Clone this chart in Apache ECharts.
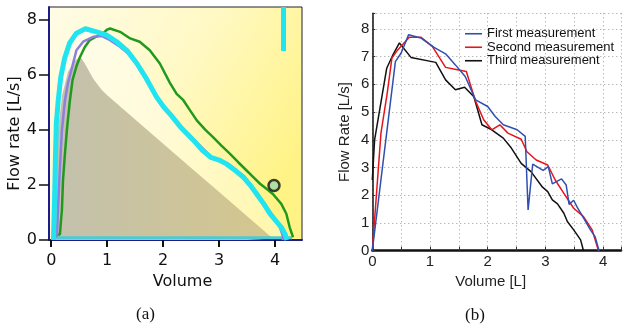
<!DOCTYPE html>
<html>
<head>
<meta charset="utf-8">
<script src="https://cdn.jsdelivr.net/npm/echarts@6.0.0/dist/echarts.min.js"></script>
<style>
  html, body { margin: 0; padding: 0; background: #fff; }
  #chart { width: 624px; height: 331px; }
</style>
</head>
<body>
<div id="chart"></div>
<script>
// ---------- Panel (a) ----------
const aVolumeTicks = [0, 1, 2, 3, 4];
const aFlowTicks = [0, 2, 4, 6, 8];
const aPredicted = [[0.05,0],[0.07,2],[0.12,4.0],[0.2,5.3],[0.3,6.1],[0.42,6.5],[0.52,6.65],[0.6,6.4],[0.75,5.85],[0.9,5.45],[1.0,5.25],[1.5,4.37],[2.0,3.49],[2.5,2.61],[3.0,1.74],[3.5,0.86],[3.96,0.05],[3.97,0]];
const aCyan = [[0.04,0],[0.06,1.5],[0.075,3.0],[0.09,4.2],[0.125,5.07],[0.17,5.9],[0.24,6.6],[0.33,7.15],[0.45,7.5],[0.61,7.66],[0.81,7.55],[0.99,7.43],[1.17,7.19],[1.35,6.88],[1.53,6.40],[1.70,5.85],[1.88,5.19],[2.0,4.85],[2.15,4.5],[2.30,4.12],[2.54,3.62],[2.70,3.25],[2.85,3.0],[3.0,2.9],[3.13,2.76],[3.30,2.5],[3.43,2.28],[3.55,2.0],[3.67,1.67],[3.80,1.3],[3.91,0.95],[4.02,0.68],[4.11,0.46],[4.18,0.2],[4.21,0]];
const aPurple = [[0.10,0.1],[0.14,2.0],[0.19,3.97],[0.245,5.07],[0.30,5.7],[0.36,6.16],[0.45,6.88],[0.57,7.19],[0.75,7.37],[0.90,7.40],[1.05,7.25],[1.20,7.05],[1.38,6.75],[1.55,6.32],[1.72,5.80],[1.90,5.15],[2.05,4.75],[2.20,4.40],[2.35,4.05],[2.58,3.58],[2.87,3.0],[3.15,2.78],[3.45,2.30],[3.68,1.70],[3.90,1.05],[4.06,0.6],[4.13,0.2],[4.14,0]];
const aGreen = [[0.07,0.2],[0.155,0.2],[0.17,0.6],[0.19,1.07],[0.21,2.16],[0.245,3.13],[0.28,4.0],[0.33,5.0],[0.38,5.8],[0.45,6.3],[0.51,6.62],[0.60,7.0],[0.69,7.25],[0.81,7.38],[0.93,7.49],[0.99,7.62],[1.05,7.67],[1.23,7.55],[1.41,7.31],[1.58,7.19],[1.76,6.88],[1.94,6.40],[2.12,5.70],[2.24,5.30],[2.36,5.07],[2.48,4.7],[2.60,4.34],[2.75,4.0],[2.89,3.73],[3.04,3.42],[3.19,3.13],[3.34,2.82],[3.49,2.52],[3.61,2.28],[3.73,2.04],[3.85,1.85],[3.96,1.67],[4.11,1.31],[4.20,0.95],[4.26,0.46],[4.32,0.1]];
const aBaseline = [[0.0,0.08],[4.3,0.08]];
const aTopBar = [[4.15,8.45],[4.15,6.85]];
const aMarker = [[3.98,1.98]];

// ---------- Panel (b) ----------
const bVolumeLabels = [0, 1, 2, 3, 4];
const bFirst = [[0,0],[0.40,6.82],[0.50,7.13],[0.63,7.79],[0.84,7.67],[1.07,7.33],[1.27,7.10],[1.44,6.70],[1.61,6.28],[1.79,5.44],[2.0,5.2],[2.13,4.84],[2.27,4.54],[2.51,4.36],[2.65,4.12],[2.70,1.47],[2.78,3.12],[2.96,2.90],[3.05,3.03],[3.12,2.41],[3.28,2.59],[3.36,2.37],[3.41,1.67],[3.49,1.82],[3.55,1.57],[3.67,1.15],[3.78,0.75],[3.86,0.51],[3.93,0]];
const bSecond = [[0,0],[0.15,4.24],[0.26,5.7],[0.34,6.95],[0.44,7.24],[0.64,7.70],[0.84,7.70],[1.04,7.37],[1.27,6.61],[1.41,6.55],[1.63,6.46],[1.78,5.44],[1.93,4.72],[2.07,4.36],[2.21,4.54],[2.35,4.24],[2.58,4.02],[2.68,3.57],[2.84,3.27],[3.04,3.09],[3.17,2.55],[3.32,2.07],[3.49,1.53],[3.66,1.23],[3.81,0.75],[3.92,0]];
const bThird = [[0,2.55],[0.04,4.0],[0.25,6.58],[0.35,7.03],[0.47,7.49],[0.67,6.97],[1.10,6.79],[1.27,6.16],[1.44,5.80],[1.60,5.89],[1.76,5.55],[1.90,4.54],[2.07,4.36],[2.27,4.06],[2.41,3.70],[2.58,3.15],[2.75,2.85],[2.95,2.29],[3.04,2.13],[3.12,1.83],[3.21,1.69],[3.32,1.35],[3.38,1.05],[3.49,0.75],[3.61,0.39],[3.66,0]];
const bNames = ['First measurement', 'Second measurement', 'Third measurement'];

const chart = echarts.init(document.getElementById('chart'), null, { renderer: 'canvas' });
const G = echarts.graphic;
const fontA = 'DejaVu Sans';
const fontB = 'Liberation Sans';

const option = {
  animation: false,
  backgroundColor: '#ffffff',
  grid: [
    { left: 49, top: 7, width: 253, height: 233, show: true, borderColor: '#222', borderWidth: 1,
      backgroundColor: new G.LinearGradient(0, 0, 1, 0.6, [
        { offset: 0, color: '#FFFCE6' },
        { offset: 0.5, color: '#FFF9C6' },
        { offset: 1, color: '#FFF386' }
      ]) },
    { left: 372.3, top: 13.3, right: 0, height: 237.4 }
  ],
  xAxis: [
    { gridIndex: 0, type: 'value', min: -0.04, max: 4.48,
      axisLine: { show: true, onZero: false, lineStyle: { color: '#1c1c8a', width: 2 } },
      axisTick: { show: true, customValues: aVolumeTicks, length: 7, lineStyle: { color: '#111', width: 2 } },
      axisLabel: { customValues: aVolumeTicks, margin: 13, fontFamily: fontA, fontSize: 16, color: '#111' },
      splitLine: { show: false },
      name: 'Volume', nameLocation: 'middle', nameGap: 26,
      nameTextStyle: { fontFamily: fontA, fontSize: 16, color: '#111', padding: [0, 0, 0, 14] } },
    { gridIndex: 1, type: 'value', min: 0, max: 4.31, interval: 0.5,
      axisLine: { show: true, onZero: false, lineStyle: { color: '#111', width: 2.5 } },
      axisTick: { show: true, inside: true, length: 4, lineStyle: { color: '#333', width: 1 } },
      axisLabel: { margin: 4, fontFamily: fontB, fontSize: 15, color: '#222',
        formatter: v => (bVolumeLabels.indexOf(v) >= 0 ? String(v) : '') },
      splitLine: { show: true, lineStyle: { color: '#9a9a9a', type: [1, 3], width: 1 } },
      name: 'Volume [L]', nameLocation: 'middle', nameGap: 20,
      nameTextStyle: { fontFamily: fontB, fontSize: 15, color: '#222', padding: [0, 12, 0, 0] } }
  ],
  yAxis: [
    { gridIndex: 0, type: 'value', min: 0, max: 8.45,
      axisLine: { show: true, onZero: false, lineStyle: { color: '#1c1c8a', width: 2 } },
      axisTick: { show: true, customValues: aFlowTicks, length: 10, lineStyle: { color: '#111', width: 1.5 } },
      axisLabel: { customValues: aFlowTicks, margin: 12, fontFamily: fontA, fontSize: 16, color: '#111' },
      splitLine: { show: false },
      name: 'Flow rate [L/s]', nameLocation: 'middle', nameGap: 24, nameRotate: 90,
      nameTextStyle: { fontFamily: fontA, fontSize: 16, color: '#111', padding: [0, 20, 0, 0] } },
    { gridIndex: 1, type: 'value', min: 0, max: 8.56, interval: 1,
      axisLine: { show: true, onZero: false, lineStyle: { color: '#111', width: 1.5 } },
      axisTick: { show: true, inside: true, length: 3, lineStyle: { color: '#333', width: 1 } },
      axisLabel: { margin: 3, fontFamily: fontB, fontSize: 15, color: '#222',
        formatter: v => (Number.isInteger(v) ? String(v) : '') },
      splitLine: { show: true, lineStyle: { color: '#9a9a9a', type: [1, 3], width: 1 } },
      name: 'Flow Rate [L/s]', nameLocation: 'middle', nameGap: 20, nameRotate: 90,
      nameTextStyle: { fontFamily: fontB, fontSize: 15, color: '#222' } }
  ],
  legend: {
    data: bNames, left: 460, top: 22, orient: 'vertical',
    icon: 'rect', itemWidth: 17, itemHeight: 1.6, itemGap: 0,
    textStyle: { fontFamily: fontB, fontSize: 13, color: '#111', lineHeight: 13.5 },
    selectedMode: false
  },
  series: [
    { name: 'predicted', type: 'line', xAxisIndex: 0, yAxisIndex: 0, data: aPredicted,
      showSymbol: false, lineStyle: { width: 0, opacity: 0 }, z: 1,
      areaStyle: { opacity: 1, color: new G.LinearGradient(0, 0, 1, 0, [
        { offset: 0, color: '#C3C1AE' }, { offset: 1, color: '#D4C68C' }]) } },
    { name: 'inner', type: 'line', xAxisIndex: 0, yAxisIndex: 0, data: aCyan,
      showSymbol: false, lineStyle: { width: 0, opacity: 0 }, z: 0,
      areaStyle: { color: 'rgba(255,255,255,0.5)' } },
    { name: 'baseline', type: 'line', xAxisIndex: 0, yAxisIndex: 0, data: aBaseline,
      showSymbol: false, lineStyle: { color: '#4ccbd2', width: 3 }, z: 3 },
    { name: 'green', type: 'line', xAxisIndex: 0, yAxisIndex: 0, data: aGreen,
      showSymbol: false, lineStyle: { color: '#1f9a1f', width: 2.5 }, z: 4 },
    { name: 'purple', type: 'line', xAxisIndex: 0, yAxisIndex: 0, data: aPurple,
      showSymbol: false, lineStyle: { color: '#8c7fe0', width: 2.5 }, z: 5 },
    { name: 'cyan', type: 'line', xAxisIndex: 0, yAxisIndex: 0, data: aCyan,
      showSymbol: false, lineStyle: { color: '#20e4f0', width: 5 }, z: 6 },
    { name: 'bar', type: 'line', xAxisIndex: 0, yAxisIndex: 0, data: aTopBar,
      showSymbol: false, lineStyle: { color: '#20e4f0', width: 5, cap: 'butt' }, z: 6 },
    { name: 'marker', type: 'scatter', xAxisIndex: 0, yAxisIndex: 0, data: aMarker,
      symbol: 'circle', symbolSize: 11,
      itemStyle: { color: '#9bd9a5', borderColor: '#111', borderWidth: 2.5 }, z: 7 },

    { name: bNames[0], type: 'line', xAxisIndex: 1, yAxisIndex: 1, data: bFirst,
      showSymbol: false, color: '#2f50b0', lineStyle: { color: '#2f50b0', width: 1.5 }, z: 5 },
    { name: bNames[1], type: 'line', xAxisIndex: 1, yAxisIndex: 1, data: bSecond,
      showSymbol: false, color: '#e8141c', lineStyle: { color: '#e8141c', width: 1.5 }, z: 4 },
    { name: bNames[2], type: 'line', xAxisIndex: 1, yAxisIndex: 1, data: bThird,
      showSymbol: false, color: '#111111', lineStyle: { color: '#111111', width: 1.5 }, z: 3 }
  ],
  graphic: [
    { type: 'text', left: 136, top: 306, style: { text: '(a)', font: '17px "Liberation Serif"', fill: '#111' } },
    { type: 'text', left: 465, top: 307, style: { text: '(b)', font: '17px "Liberation Serif"', fill: '#111' } }
  ]
};
chart.setOption(option);
</script>
</body>
</html>
